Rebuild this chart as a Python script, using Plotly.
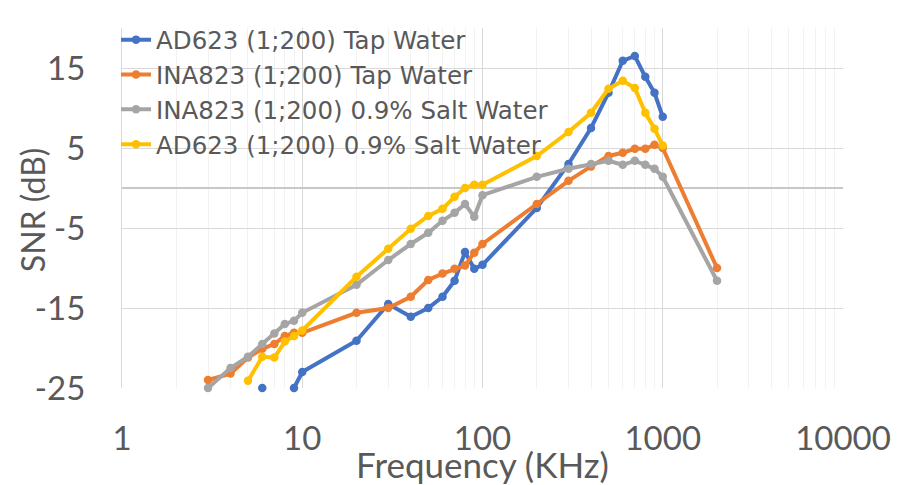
import plotly.graph_objects as go

# Frequencies (kHz) and SNR (dB)
freq_ad623_tap = [6, 7, 8, 9, 10, 20, 30, 40, 50, 60, 70, 80, 90, 100, 200, 300, 400, 500, 600, 700, 800, 900, 1000]
snr_ad623_tap = [-25.0, None, None, -25.0, -23.0, -19.1, -14.5, -16.1, -15.0, -13.6, -11.6, -8.0, -10.1, -9.6,
                 -2.5, 3.0, 7.5, 11.9, 15.9, 16.5, 13.9, 11.9, 8.9]

freq_ina823_tap = [3, 4, 5, 6, 7, 8, 9, 10, 20, 30, 40, 50, 60, 70, 80, 90, 100, 200, 300, 400, 500, 600, 700, 800, 900, 1000, 2000]
snr_ina823_tap = [-24.0, -23.2, -21.2, -20.1, -19.5, -18.5, -18.1, -18.1, -15.6, -15.0, -13.6, -11.5, -10.7, -10.1,
                  -9.7, -8.1, -7.0, -2.0, 0.9, 2.7, 4.0, 4.4, 4.9, 4.9, 5.4, 5.0, -10.0]

freq_ina823_salt = [3, 4, 5, 6, 7, 8, 9, 10, 20, 30, 40, 50, 60, 70, 80, 90, 100, 200, 300, 400, 500, 600, 700, 800, 900, 1000, 2000]
snr_ina823_salt = [-25.0, -22.5, -21.1, -19.5, -18.2, -17.0, -16.6, -15.6, -12.1, -9.0, -7.0, -5.6, -4.1, -3.1,
                   -2.0, -3.6, -0.9, 1.4, 2.4, 3.0, 3.4, 2.9, 3.4, 2.9, 2.4, 1.4, -11.6]

freq_ad623_salt = [5, 6, 7, 8, 9, 10, 20, 30, 40, 50, 60, 70, 80, 90, 100, 200, 300, 400, 500, 600, 700, 800, 900, 1000]
snr_ad623_salt = [-24.1, -21.1, -21.2, -19.2, -18.5, -17.8, -11.1, -7.6, -5.1, -3.5, -2.6, -1.1, 0.0, 0.4, 0.4,
                  4.0, 7.0, 9.4, 12.4, 13.4, 12.5, 9.4, 7.4, 5.3]

series_names = ["AD623 (1;200) Tap Water", "INA823 (1;200) Tap Water",
                "INA823 (1;200) 0.9% Salt Water", "AD623 (1;200) 0.9% Salt Water"]
series_colors = ["#4472C4", "#ED7D31", "#A5A5A5", "#FFC000"]

x_tick_vals = [1, 10, 100, 1000, 10000]
x_tick_text = ["1", "10", "100", "1000", "10000"]
y_tick_vals = [-25, -15, -5, 5, 15]
y_tick_text = ["-25", "-15", "-5", "5", "15"]

FONT = "Lato"
LEG_FONT = "DejaVu Sans"
TXT = "#595959"

fig = go.Figure()
for fx, fy, name, col in zip(
        [freq_ad623_tap, freq_ina823_tap, freq_ina823_salt, freq_ad623_salt],
        [snr_ad623_tap, snr_ina823_tap, snr_ina823_salt, snr_ad623_salt],
        series_names, series_colors):
    fig.add_trace(go.Scatter(x=fx, y=fy, name=name, mode="lines+markers",
                             line=dict(color=col, width=4),
                             marker=dict(color=col, size=8.5),
                             connectgaps=False, cliponaxis=False))

minor_vals = [d * 10 ** e for e in range(4) for d in range(2, 10)]

fig.update_layout(
    width=915, height=477,
    margin=dict(l=114, r=80, t=20, b=97, autoexpand=False),
    paper_bgcolor="white", plot_bgcolor="white",
    font=dict(family=FONT, color=TXT),
    showlegend=True,
    legend=dict(x=-0.0083, y=1.03, xanchor="left", yanchor="top",
                bgcolor="rgba(255,255,255,0)", font=dict(size=24.5, color=TXT, family=LEG_FONT),
                itemwidth=30, tracegroupgap=0),
    xaxis=dict(type="log", range=[0, 4], tickmode="array", tickvals=x_tick_vals, ticktext=x_tick_text,
               showgrid=True, gridcolor="#D9D9D9", gridwidth=1,
               minor=dict(tickmode="array", tickvals=minor_vals, showgrid=True, gridcolor="#F2F2F2", gridwidth=1),
               showline=False, zeroline=False, automargin=False,
               ticks="outside", ticklen=21, tickcolor="rgba(0,0,0,0)",
               tickfont=dict(size=33, color=TXT, family=FONT),
               title=dict(text="Frequency (KHz)", font=dict(size=35, color=TXT, family=FONT), standoff=0)),
    yaxis=dict(range=[-25, 20], tickmode="array", tickvals=y_tick_vals, ticktext=y_tick_text,
               showgrid=True, gridcolor="#D9D9D9", gridwidth=1,
               zeroline=True, zerolinecolor="#C8C8C8", zerolinewidth=1.5,
               showline=True, linecolor="#D9D9D9", linewidth=1, automargin=False,
               ticks="outside", ticklen=29, tickcolor="rgba(0,0,0,0)",
               tickfont=dict(size=33, color=TXT, family=FONT)),
    annotations=[dict(text="SNR (dB)", xref="paper", yref="paper", x=-0.1248, y=0.494,
                      xanchor="center", yanchor="middle", textangle=-90, showarrow=False,
                      font=dict(size=32, color=TXT, family=FONT))],
)

fig.write_html("out.html")
